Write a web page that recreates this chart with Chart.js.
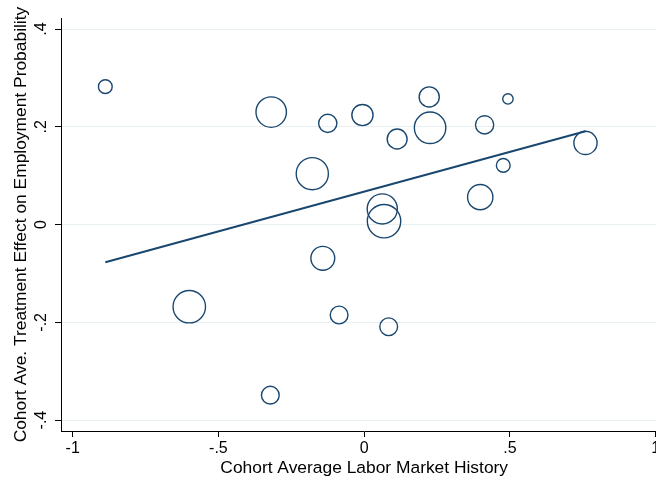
<!DOCTYPE html>
<html>
<head>
<meta charset="utf-8">
<script src="https://cdn.jsdelivr.net/npm/chart.js@4"></script>
<style>
  html, body { margin: 0; padding: 0; background: #fff; overflow: hidden; }
  #wrap { width: 656px; height: 480px; overflow: hidden; position: relative; background: #fff; }
  canvas { display: block; }
</style>
</head>
<body>
<div id="wrap"><canvas id="c" width="690" height="480" style="width:690px;height:480px"></canvas></div>
<script>
// Cohort-level estimates: labor market history (x), treatment effect (y), cohort weight
const laborHistory = [-0.888, -0.319, -0.125, -0.006, 0.223, 0.226, 0.113, 0.413, 0.493, 0.477,
                      0.759, -0.178, 0.398, 0.062, 0.068, -0.142, -0.600, -0.086, 0.084, -0.322];
const treatEffect  = [0.282, 0.230, 0.207, 0.224, 0.261, 0.198, 0.175, 0.204, 0.257, 0.121,
                      0.167, 0.104, 0.056, 0.032, 0.007, -0.069, -0.168, -0.185, -0.209, -0.349];
const cohortWeight = [21, 103, 37, 50, 45, 110, 44, 37, 12, 21,
                      60, 115, 71, 101, 124, 63, 117, 35, 35, 35];

// Weighted linear fit, drawn between the extreme x values
const fitX = [-0.888, 0.759];
const fitY = [-0.077, 0.191];

const xTickVals   = [-1, -0.5, 0, 0.5, 1];
const xTickLabels = ['-1', '-.5', '0', '.5', '1'];
const yTickVals   = [-0.4, -0.2, 0, 0.2, 0.4];
const yTickLabels = ['-.4', '-.2', '0', '.2', '.4'];

const NAVY = '#1a476f';
const GRID = '#e8f0f2';
const FONT = "'Liberation Sans', Arial, Helvetica, sans-serif";
const MARKER_SCALE = 1.5;

// Vertical (rotated) tick labels for the y axis
const yTickText = {
  id: 'yTickText',
  afterDraw(chart) {
    const ys = chart.scales.y;
    const ctx = chart.ctx;
    ctx.save();
    ctx.font = '16px ' + FONT;
    ctx.fillStyle = '#000';
    ctx.textAlign = 'center';
    ctx.textBaseline = 'middle';
    yTickVals.forEach((v, i) => {
      const py = ys.getPixelForValue(v);
      ctx.save();
      ctx.translate(41.5, py);
      ctx.rotate(-Math.PI / 2);
      ctx.fillText(yTickLabels[i], 0, 0);
      ctx.restore();
    });
    ctx.restore();
  }
};

new Chart(document.getElementById('c'), {
  type: 'scatter',
  data: {
    datasets: [
      {
        type: 'line',
        label: 'Fitted values',
        data: fitX.map((x, i) => ({ x, y: fitY[i] })),
        borderColor: NAVY,
        borderWidth: 2,
        pointRadius: 0,
        fill: false,
        order: 0
      },
      {
        type: 'scatter',
        label: 'Cohort',
        data: laborHistory.map((x, i) => ({ x, y: treatEffect[i] })),
        pointStyle: 'circle',
        pointRadius: ctx => MARKER_SCALE * Math.sqrt(cohortWeight[ctx.dataIndex]),
        borderColor: NAVY,
        borderWidth: 1.4,
        backgroundColor: 'rgba(0,0,0,0)',
        order: 1
      }
    ]
  },
  options: {
    responsive: false,
    animation: false,
    devicePixelRatio: 1,
    layout: { padding: { left: 0, top: 14, right: 22.6, bottom: 0 } },
    plugins: { legend: { display: false }, tooltip: { enabled: false } },
    scales: {
      x: {
        type: 'linear',
        min: -1.04,
        max: 1.04,
        afterBuildTicks: s => { s.ticks = xTickVals.map(v => ({ value: v })); },
        ticks: {
          callback: (v, i) => xTickLabels[i],
          font: { family: FONT, size: 16 },
          color: '#000',
          padding: 2,
          maxRotation: 0,
          autoSkip: false
        },
        grid: { drawOnChartArea: false, tickLength: 6, tickColor: '#000' },
        border: { color: '#000', width: 1 },
        title: {
          display: true,
          text: 'Cohort Average Labor Market History',
          font: { family: FONT, size: 17.4 },
          color: '#000',
          padding: { top: 0, bottom: 1 }
        },
        afterFit: s => { s.height = 49; }
      },
      y: {
        type: 'linear',
        min: -0.4223,
        max: 0.4223,
        afterBuildTicks: s => { s.ticks = yTickVals.map(v => ({ value: v })); },
        ticks: { display: false },
        grid: { color: GRID, lineWidth: 1, tickLength: 6, tickColor: '#000' },
        border: { color: '#000', width: 1 },
        title: {
          display: true,
          text: 'Cohort Ave. Treatment Effect on Employment Probability',
          font: { family: FONT, size: 17.4 },
          color: '#000',
          padding: { top: 11, bottom: 0 }
        },
        afterFit: s => { s.width = 61; }
      }
    }
  },
  plugins: [yTickText]
});
</script>
</body>
</html>
